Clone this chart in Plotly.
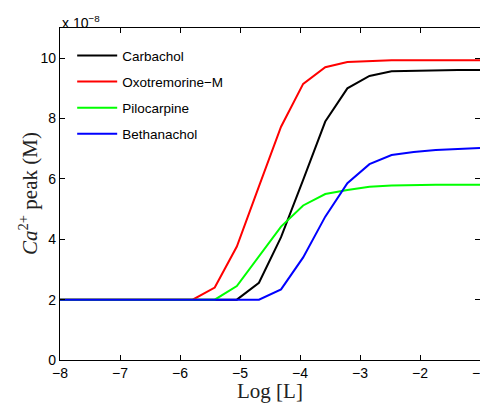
import numpy as np
import plotly.graph_objects as go

log_L = np.linspace(-8, -1, 20)

carbachol = [2, 2, 2, 2, 2, 2, 2, 2, 2, 2.56, 4.07, 5.97, 7.9, 9.0, 9.41, 9.57, 9.59, 9.61, 9.61, 9.61]
oxotremorine = [2, 2, 2, 2, 2, 2, 2, 2.40, 3.76, 5.75, 7.73, 9.15, 9.70, 9.87, 9.91, 9.93, 9.93, 9.93, 9.93, 9.93]
pilocarpine = [2, 2, 2, 2, 2, 2, 2, 2, 2.45, 3.42, 4.42, 5.12, 5.50, 5.63, 5.74, 5.78, 5.80, 5.81, 5.81, 5.81]
bethanachol = [2, 2, 2, 2, 2, 2, 2, 2, 2, 2, 2.34, 3.40, 4.75, 5.86, 6.49, 6.79, 6.89, 6.96, 6.99, 7.02]

series = [
    ("Carbachol", carbachol, "#000000"),
    ("Oxotremorine\u2212M", oxotremorine, "#ff0000"),
    ("Pilocarpine", pilocarpine, "#00ff00"),
    ("Bethanachol", bethanachol, "#0000ff"),
]

x_ticks = [-8, -7, -6, -5, -4, -3, -2, -1]
y_ticks = [0, 2, 4, 6, 8, 10]

fig = go.Figure()
for i, (name, vals, col) in enumerate(series):
    fig.add_trace(go.Scatter(x=log_L, y=vals, mode="lines", name=name,
                             legendgroup=f"g{i}",
                             line=dict(color=col, width=2)))

axis_common = dict(showline=True, linecolor="black", linewidth=1.3, mirror="ticks",
                   ticks="inside", ticklen=5, tickcolor="black", tickwidth=1,
                   showgrid=False, zeroline=False, automargin=False,
                   tickfont=dict(family="Liberation Sans, Arial", size=14, color="black"))

fig.update_layout(
    width=480, height=406,
    margin=dict(l=60, r=0, t=28, b=46, autoexpand=False),
    paper_bgcolor="white", plot_bgcolor="white",
    xaxis=dict(range=[-8, -1], tickvals=x_ticks,
               ticktext=[f"\u2212{abs(v)}" for v in x_ticks],
               ticklabeloverflow="allow", **axis_common),
    yaxis=dict(range=[0, 11], tickvals=y_ticks,
               ticktext=[str(v) for v in y_ticks], **axis_common),
    showlegend=True,
    legend=dict(x=0.029, y=0.963, xanchor="left", yanchor="top",
                bgcolor="rgba(0,0,0,0)", borderwidth=0,
                font=dict(family="Liberation Sans, Arial", size=13.5, color="black"),
                tracegroupgap=5.5, itemwidth=40),
    annotations=[
        dict(text="x 10<sup>\u22128</sup>", xref="paper", yref="paper",
             x=0, y=0.985, xanchor="left", yanchor="bottom", showarrow=False,
             font=dict(family="Liberation Sans, Arial", size=14, color="black")),
        dict(text="Log [L]", xref="paper", yref="paper",
             x=0.5, y=-0.094, xanchor="center", yanchor="middle", showarrow=False,
             font=dict(family="Liberation Serif, Times New Roman", size=21, color="#222")),
        dict(text="<i>Ca</i><sup>2+</sup> peak (M)", xref="paper", yref="paper",
             x=-0.076, y=0.5, xanchor="center", yanchor="middle", showarrow=False,
             textangle=-90,
             font=dict(family="Liberation Serif, Times New Roman", size=21, color="#222")),
    ],
)

fig.write_html(
    "out.html",
    config={"displayModeBar": False},
    post_script="document.body.style.margin='0';document.body.style.overflow='hidden';",
)
